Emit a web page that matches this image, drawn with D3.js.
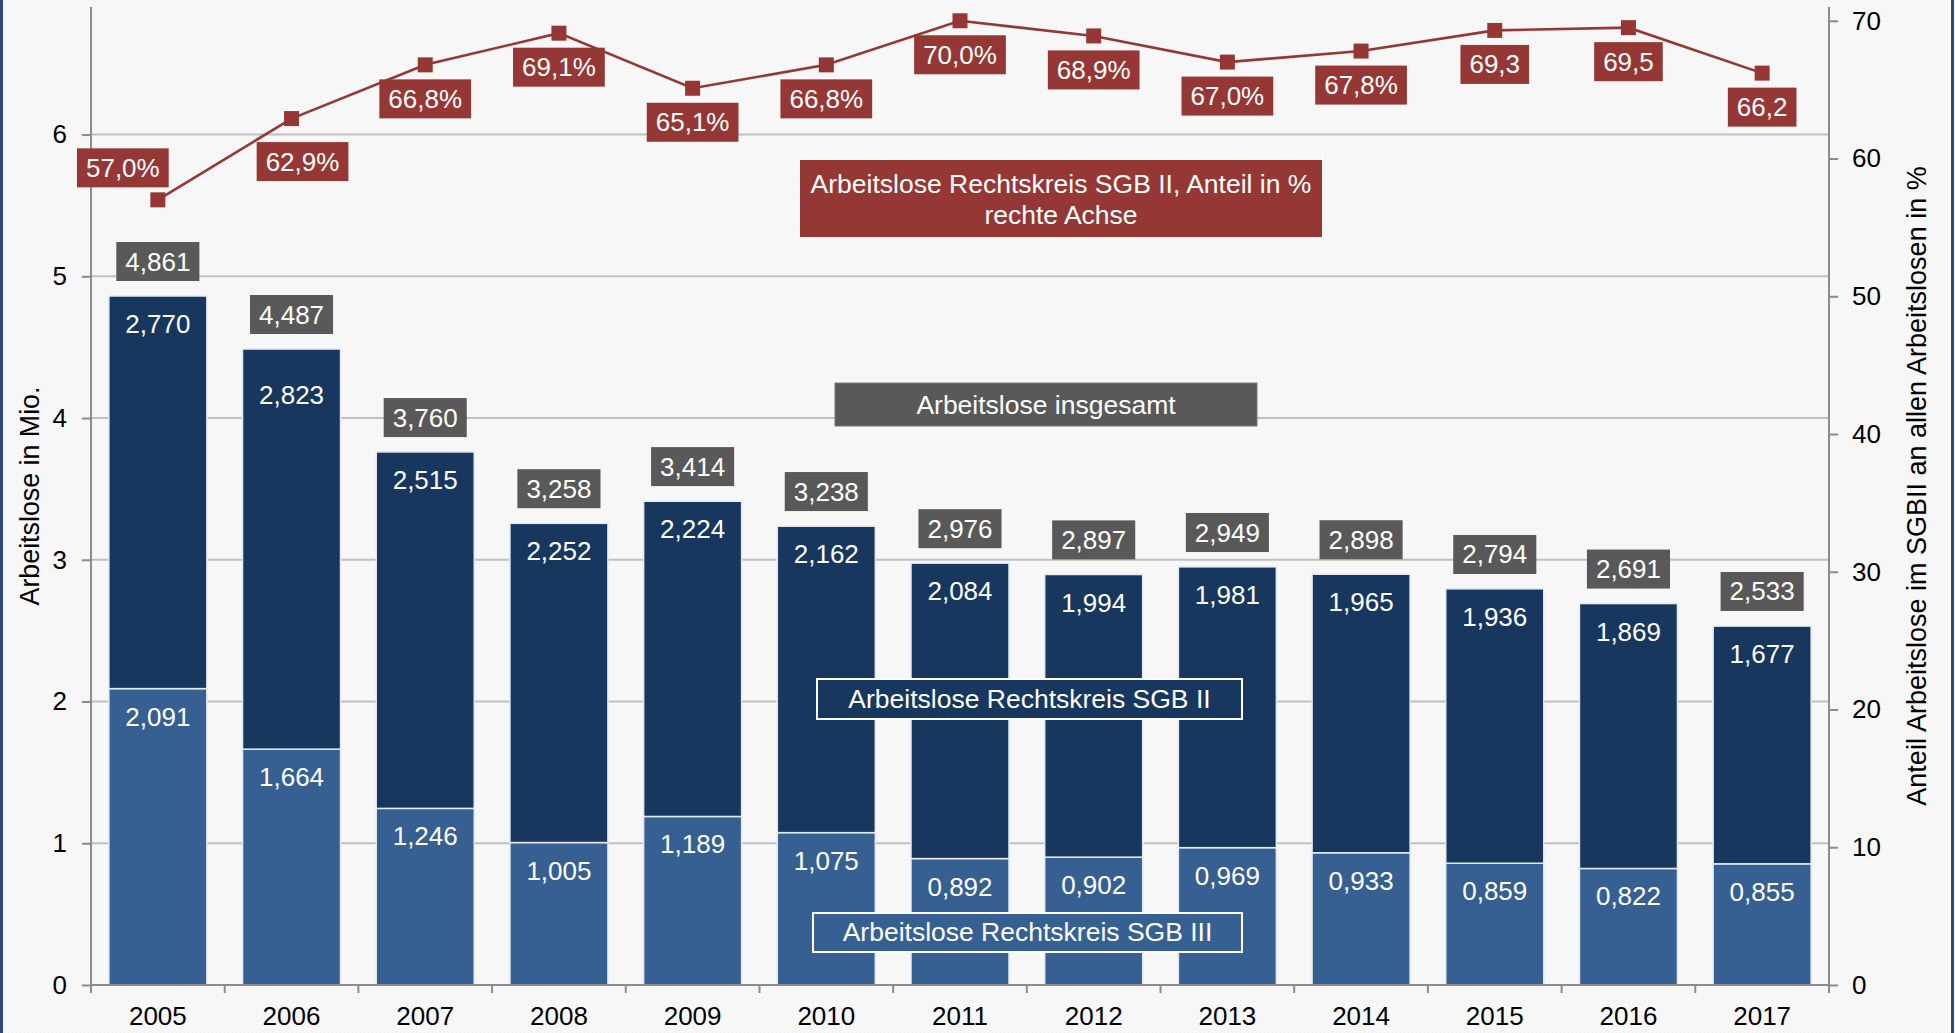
<!DOCTYPE html>
<html lang="de">
<head>
<meta charset="utf-8">
<title>Arbeitslose nach Rechtskreisen 2005–2017</title>
<script src="https://cdn.jsdelivr.net/npm/d3@7"></script>
<style>
  html, body { margin: 0; padding: 0; background: #f8f8f8; }
  svg { display: block; font-family: "Liberation Sans", Arial, sans-serif; }
</style>
</head>
<body>
<svg id="chart" width="1955" height="1033"></svg>
<script>
// Jahre
const years = ["2005","2006","2007","2008","2009","2010","2011","2012","2013","2014","2015","2016","2017"];
// Arbeitslose Rechtskreis SGB III (Mio.)
const sgb3 = [2.091, 1.664, 1.246, 1.005, 1.189, 1.075, 0.892, 0.902, 0.969, 0.933, 0.859, 0.822, 0.855];
// Arbeitslose Rechtskreis SGB II (Mio.)
const sgb2 = [2.770, 2.823, 2.515, 2.252, 2.224, 2.162, 2.084, 1.994, 1.981, 1.965, 1.936, 1.869, 1.677];
// Arbeitslose insgesamt (Mio.)
const total = [4.861, 4.487, 3.760, 3.258, 3.414, 3.238, 2.976, 2.897, 2.949, 2.898, 2.794, 2.691, 2.533];
// Anteil SGB II an allen Arbeitslosen (%)
const share = [57.0, 62.9, 66.8, 69.1, 65.1, 66.8, 70.0, 68.9, 67.0, 67.8, 69.3, 69.5, 66.2];
const shareLabels = ["57,0%","62,9%","66,8%","69,1%","65,1%","66,8%","70,0%","68,9%","67,0%","67,8%","69,3","69,5","66,2"];
// Achsenbeschriftungen
const leftTicks = [0, 1, 2, 3, 4, 5, 6];
const rightTicks = [0, 10, 20, 30, 40, 50, 60, 70];

const C = {
  sgb3: "#376092",
  sgb2: "#17375e",
  total: "#595959",
  line: "#953735",
  grid: "#c0c0c0",
  axis: "#8c8c8c"
};
const FONT = 26;
const LEG_FONT = 26.5;

const svg = d3.select("#chart");
const W = 1955, H = 1033;
const plot = { left: 91, right: 1829, top: 7, bottom: 985 };

const de = d3.formatLocale({ decimal: ",", thousands: ".", grouping: [3], currency: ["", " €"] });
const fmt3 = de.format(".3f");

// Hintergrund mit feiner Körnung
const defs = svg.append("defs");
const pat = defs.append("pattern").attr("id", "grain")
  .attr("width", 4).attr("height", 4).attr("patternUnits", "userSpaceOnUse");
pat.append("rect").attr("width", 4).attr("height", 4).attr("fill", "#f8f8f8");
pat.append("rect").attr("x", 0).attr("y", 0).attr("width", 1).attr("height", 1).attr("fill", "#f1f1f1");
pat.append("rect").attr("x", 2).attr("y", 2).attr("width", 1).attr("height", 1).attr("fill", "#f3f3f3");
svg.append("rect").attr("width", W).attr("height", H).attr("fill", "url(#grain)");

// Rahmenlinien links und rechts
svg.append("rect").attr("x", 0).attr("y", 0).attr("width", 3).attr("height", H).attr("fill", "#2b4a78");
svg.append("rect").attr("x", W - 4).attr("y", 0).attr("width", 3).attr("height", H).attr("fill", "#2b4a78");

// Skalen
const x = d3.scaleBand().domain(years).range([plot.left, plot.right])
  .paddingInner(0.267).paddingOuter(0.1335);
const yL = d3.scaleLinear().domain([0, 6.9]).range([plot.bottom, plot.top]);
const yR = d3.scaleLinear().domain([0, 71]).range([plot.bottom, plot.top]);
const cx = d => x(d) + x.bandwidth() / 2;

// Gitternetz
svg.append("g").selectAll("line").data(leftTicks.filter(t => t > 0)).join("line")
  .attr("x1", plot.left).attr("x2", plot.right)
  .attr("y1", d => yL(d)).attr("y2", d => yL(d))
  .attr("stroke", C.grid).attr("stroke-width", 2);

// Gestapelte Säulen
const bars = svg.append("g");
const seg = years.map((y, i) => ({ year: y, i }));
bars.selectAll("rect.s3").data(seg).join("rect").attr("class", "s3")
  .attr("x", d => x(d.year)).attr("width", x.bandwidth())
  .attr("y", d => yL(sgb3[d.i])).attr("height", d => yL(0) - yL(sgb3[d.i]))
  .attr("fill", C.sgb3).attr("stroke", "#e4eaf1").attr("stroke-width", 1.5);
bars.selectAll("rect.s2").data(seg).join("rect").attr("class", "s2")
  .attr("x", d => x(d.year)).attr("width", x.bandwidth())
  .attr("y", d => yL(sgb3[d.i] + sgb2[d.i])).attr("height", d => yL(sgb3[d.i]) - yL(sgb3[d.i] + sgb2[d.i]))
  .attr("fill", C.sgb2).attr("stroke", "#e4eaf1").attr("stroke-width", 1.5);

// Achsen
const axisG = svg.append("g").attr("stroke", C.axis).attr("stroke-width", 2);
axisG.append("line").attr("x1", plot.left).attr("x2", plot.left).attr("y1", plot.top).attr("y2", plot.bottom);
axisG.append("line").attr("x1", plot.right).attr("x2", plot.right).attr("y1", plot.top).attr("y2", plot.bottom);
axisG.append("line").attr("x1", plot.left).attr("x2", plot.right).attr("y1", plot.bottom).attr("y2", plot.bottom);

const gL = svg.append("g").attr("transform", `translate(${plot.left},0)`)
  .call(d3.axisLeft(yL).tickValues(leftTicks).tickSize(9).tickPadding(15).tickFormat(d3.format("d")));
const gR = svg.append("g").attr("transform", `translate(${plot.right},0)`)
  .call(d3.axisRight(yR).tickValues(rightTicks).tickSize(9).tickPadding(14).tickFormat(d3.format("d")));
const gB = svg.append("g").attr("transform", `translate(0,${plot.bottom})`)
  .call(d3.axisBottom(x).tickSize(0).tickPadding(22));
[gL, gR, gB].forEach(g => {
  g.select(".domain").remove();
  g.selectAll(".tick line").attr("stroke", C.axis).attr("stroke-width", 2);
  g.selectAll(".tick text").attr("fill", "#000").attr("font-size", FONT)
    .attr("font-family", "'Liberation Sans', Arial, sans-serif");
});
gB.selectAll(".tick text").attr("dy", "0.71em").attr("y", 22);
// Trennstriche zwischen den Kategorien
const bounds = years.map(y => x(y) - x.step() * x.paddingInner() / 2);
bounds[0] = plot.left;
bounds.push(plot.right);
svg.append("g").selectAll("line").data(bounds).join("line")
  .attr("x1", d => d).attr("x2", d => d)
  .attr("y1", plot.bottom).attr("y2", plot.bottom + 8)
  .attr("stroke", C.axis).attr("stroke-width", 2);

// Achsentitel
svg.append("text").attr("transform", `translate(39,${(plot.top + plot.bottom) / 2}) rotate(-90)`)
  .attr("text-anchor", "middle").attr("font-size", 26.8).attr("fill", "#000")
  .text("Arbeitslose in Mio.");
svg.append("text").attr("transform", `translate(1926,486) rotate(-90)`)
  .attr("text-anchor", "middle").attr("font-size", 27).attr("fill", "#000")
  .text("Anteil Arbeitslose im SGBII an allen Arbeitslosen in %");

// Werte in den Säulen
const innerShift = { "2006": 46 };
const lbl = svg.append("g").attr("fill", "#fff").attr("font-size", FONT).attr("text-anchor", "middle");
lbl.selectAll("text.v3").data(seg).join("text").attr("class", "v3")
  .attr("x", d => cx(d.year)).attr("y", d => yL(sgb3[d.i]) + 28 + 9)
  .text(d => fmt3(sgb3[d.i]));
lbl.selectAll("text.v2").data(seg).join("text").attr("class", "v2")
  .attr("x", d => cx(d.year))
  .attr("y", d => yL(sgb3[d.i] + sgb2[d.i]) + (innerShift[d.year] || 28) + 9)
  .text(d => fmt3(sgb2[d.i]));

// Beschriftungskästchen: Text mit farbigem Hintergrund
function boxLabel(g, cxp, cyp, text, fill, opts = {}) {
  const grp = g.append("g");
  const r = grp.append("rect").attr("fill", fill);
  const t = grp.append("text").attr("x", cxp).attr("y", cyp + 9)
    .attr("text-anchor", "middle").attr("font-size", opts.size || FONT).attr("fill", "#fff").text(text);
  const w = t.node().getComputedTextLength();
  const padX = opts.padX != null ? opts.padX : 9;
  const h = opts.h || 39;
  r.attr("x", cxp - w / 2 - padX).attr("y", cyp - h / 2).attr("width", w + 2 * padX).attr("height", h);
  return grp;
}

// Summen über den Säulen
const tg = svg.append("g");
seg.forEach(d => {
  boxLabel(tg, cx(d.year), yL(total[d.i]) - 34.5, fmt3(total[d.i]), C.total);
});

// Anteilslinie (rechte Achse)
const line = d3.line().x((d, i) => cx(years[i])).y(d => yR(d));
svg.append("path").datum(share).attr("d", line)
  .attr("fill", "none").attr("stroke", C.line).attr("stroke-width", 2.6);
svg.append("g").selectAll("rect").data(share).join("rect")
  .attr("x", (d, i) => cx(years[i]) - 7.5).attr("y", d => yR(d) - 7.5)
  .attr("width", 15).attr("height", 15).attr("fill", C.line);

const lineShift = { "2005": [-35, -32], "2006": [11, 43] };
const lg = svg.append("g");
share.forEach((v, i) => {
  const s = lineShift[years[i]] || [0, 34];
  boxLabel(lg, cx(years[i]) + s[0], yR(v) + s[1], shareLabels[i], C.line);
});

// Legendenkästen
const leg = svg.append("g").attr("font-size", LEG_FONT).attr("fill", "#fff").attr("text-anchor", "middle");
// Anteil SGB II
leg.append("rect").attr("x", 800).attr("y", 160).attr("width", 522).attr("height", 77).attr("fill", C.line);
leg.append("text").attr("x", 1061).attr("y", 193).text("Arbeitslose Rechtskreis SGB II, Anteil in %");
leg.append("text").attr("x", 1061).attr("y", 224).text("rechte Achse");
// insgesamt
leg.append("rect").attr("x", 835).attr("y", 383).attr("width", 422).attr("height", 43)
  .attr("fill", C.total).attr("stroke", "#7a7a7a").attr("stroke-width", 1);
leg.append("text").attr("x", 1046).attr("y", 414).text("Arbeitslose insgesamt");
// SGB II
leg.append("rect").attr("x", 817).attr("y", 679).attr("width", 425).attr("height", 40)
  .attr("fill", C.sgb2).attr("stroke", "#fff").attr("stroke-width", 2);
leg.append("text").attr("x", 1029.5).attr("y", 708).text("Arbeitslose Rechtskreis SGB II");
// SGB III
leg.append("rect").attr("x", 813).attr("y", 913).attr("width", 429).attr("height", 39)
  .attr("fill", C.sgb3).attr("stroke", "#fff").attr("stroke-width", 2);
leg.append("text").attr("x", 1027.5).attr("y", 941).text("Arbeitslose Rechtskreis SGB III");
</script>
</body>
</html>
